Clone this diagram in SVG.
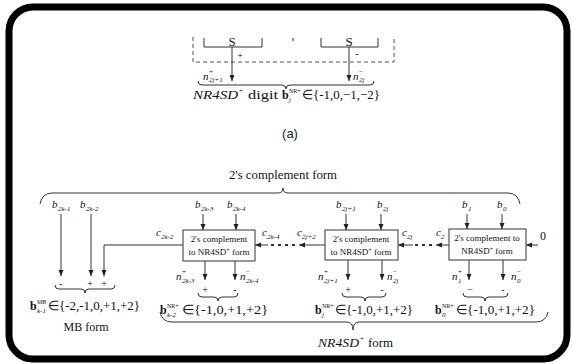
<svg xmlns="http://www.w3.org/2000/svg" width="573" height="364" viewBox="0 0 573 364">
<defs>
<style>
.t{font-family:"Liberation Serif","Times New Roman",serif;fill:#111}
.i{font-style:italic}
.s{font-size:7px}
.p{font-size:6px}
.lab{font-size:11px;font-style:italic}
.ln{stroke:#333;stroke-width:1;fill:none}
.ar{stroke:#333;stroke-width:1;fill:none;marker-end:url(#ah)}
.dot{stroke:#333;stroke-width:2;fill:none;stroke-dasharray:3 4}
.box{fill:#fff;stroke:#333;stroke-width:1}
.bt{font-family:"Liberation Serif","Times New Roman",serif;font-size:9px;fill:#111;text-anchor:middle}
.sg{font-family:"Liberation Serif",serif;font-size:10px;fill:#111;text-anchor:middle}
</style>
<marker id="ah" viewBox="0 0 6 6" refX="6" refY="3" markerWidth="6" markerHeight="6" orient="auto" markerUnits="userSpaceOnUse"><path d="M0,0.5 L6,3 L0,5.5z" fill="#222"/></marker>
<clipPath id="cl"><rect x="0" y="38" width="573" height="40"/></clipPath>
</defs>
<rect x="0" y="0" width="573" height="364" fill="#fff"/>
<rect x="9" y="7" width="558" height="352" rx="24" fill="#fff" stroke="#000" stroke-width="7"/>

<!-- part (a) -->
<g id="part-a">
<path d="M193,37 V62 H394 V37" fill="none" stroke="#555" stroke-width="1" stroke-dasharray="4 3"/>
<path class="ln" d="M204,38 V47 H262 V38"/>
<path class="ln" d="M321,38 V47 H378 V38"/>
<line class="ln" x1="293" y1="38" x2="293" y2="41"/>
<text class="t" x="232" y="46" font-size="13" text-anchor="middle" clip-path="url(#cl)">S</text>
<text class="t" x="349" y="46" font-size="13" text-anchor="middle" clip-path="url(#cl)">S</text>
<text class="sg" x="240" y="59">+</text>
<text class="sg" x="357" y="57">-</text>
<text class="t lab" x="203" y="80">n</text><text class="t s" x="209" y="74">+</text><text class="t s i" x="209" y="82">2j+1</text>
<text class="t lab" x="353" y="80">n</text><text class="t s" x="359" y="74">−</text><text class="t s i" x="359" y="82">2j</text>
<path class="ln" d="M198,81 Q198,85 202,85 H282 Q286,85 286,89 Q286,85 290,85 H370 Q374,85 374,81"/>
<text class="t i" x="193" y="99" font-size="13" textLength="45" lengthAdjust="spacingAndGlyphs">NR4SD</text>
<text class="t s" x="239" y="93">+</text>
<text class="t" x="248" y="99" font-size="13" textLength="30" lengthAdjust="spacingAndGlyphs">digit</text>
<text class="t" x="282" y="99" font-size="12" font-weight="bold">b</text>
<text class="t p" x="289" y="93">NR+</text><text class="t s i" x="289" y="102">j</text>
<text class="t" x="302" y="99" font-size="13" textLength="78" lengthAdjust="spacingAndGlyphs">∈{-1,0,−1,−2}</text>
<text x="290" y="138" font-family="Liberation Sans, Arial, sans-serif" font-size="13" fill="#222" text-anchor="middle">(a)</text>
</g>

<g id="header">
<text class="t" x="283" y="179" font-size="13" text-anchor="middle" textLength="108" lengthAdjust="spacingAndGlyphs">2's complement form</text>
<path class="ln" d="M40,204 Q42,193 52,193 H278 Q283,193 283,188 Q283,193 288,193 H508 Q518,193 520,204"/>
</g>

<g id="mb">
<text class="t lab" x="52" y="208">b</text><text class="t s i" x="58" y="211">2k-1</text>
<text class="t lab" x="80" y="208">b</text><text class="t s i" x="86" y="211">2k-2</text>
<text class="sg" x="61" y="287">-</text>
<text class="sg" x="90" y="287">+</text>
<text class="sg" x="104" y="287">+</text>
<path class="ln" d="M55,285 Q55,289 59,289 H81 Q85,289 85,293 Q85,289 89,289 H111 Q115,289 115,285"/>
<text class="t" x="30" y="310" font-size="12" font-weight="bold">b</text>
<text class="t p" x="37" y="304">MB</text><text class="t s i" x="37" y="313">k-1</text>
<text class="t" x="48" y="310" font-size="13" textLength="92" lengthAdjust="spacingAndGlyphs">∈{-2,-1,0,+1,+2}</text>
<text class="t" x="86" y="331" font-size="12" text-anchor="middle">MB form</text>
</g>

<g id="box1">
<rect class="box" x="183" y="230" width="72" height="31"/>
<text class="bt" x="219" y="242">2's complement</text>
<text class="bt" x="219" y="255">to NR4SD<tspan font-size="6" dy="-3">+</tspan><tspan dy="3"> form</tspan></text>
<text class="t lab" x="195" y="208">b</text><text class="t s i" x="201" y="211">2k-3</text>
<text class="t lab" x="227" y="208">b</text><text class="t s i" x="233" y="211">2k-4</text>
<text class="t lab" x="156" y="236">c</text><text class="t s i" x="161" y="239">2k-2</text>
<text class="t lab" x="262" y="236">c</text><text class="t s i" x="267" y="239">2k-4</text>
<text class="t lab" x="176" y="280">n</text><text class="t s" x="182" y="274">+</text><text class="t s i" x="182" y="283">2k-3</text>
<text class="t lab" x="240" y="280">n</text><text class="t s" x="246" y="274">−</text><text class="t s i" x="246" y="283">2k-4</text>
<text class="sg" x="205" y="293">+</text>
<text class="sg" x="235" y="293">-</text>
<path class="ln" d="M198,293 Q198,297 202,297 H214 Q218,297 218,301 Q218,297 222,297 H234 Q238,297 238,293"/>
<text class="t" x="160" y="314" font-size="12" font-weight="bold">b</text>
<text class="t p" x="167" y="308">NR+</text><text class="t s i" x="167" y="317">k-2</text>
<text class="t" x="182" y="314" font-size="13" textLength="86" lengthAdjust="spacingAndGlyphs">∈{-1,0,+1,+2}</text>
</g>

<g id="box2">
<rect class="box" x="325" y="230" width="73" height="30"/>
<text class="bt" x="361" y="242">2's complement</text>
<text class="bt" x="361" y="255">to NR4SD<tspan font-size="6" dy="-3">+</tspan><tspan dy="3"> form</tspan></text>
<text class="t lab" x="336" y="208">b</text><text class="t s i" x="342" y="211">2j+1</text>
<text class="t lab" x="377" y="208">b</text><text class="t s i" x="383" y="211">2j</text>
<text class="t lab" x="297" y="236">c</text><text class="t s i" x="302" y="239">2j+2</text>
<text class="t lab" x="402" y="236">c</text><text class="t s i" x="407" y="239">2j</text>
<text class="t lab" x="318" y="280">n</text><text class="t s" x="324" y="274">+</text><text class="t s i" x="324" y="283">2j+1</text>
<text class="t lab" x="387" y="280">n</text><text class="t s" x="393" y="274">−</text><text class="t s i" x="393" y="283">2j</text>
<text class="sg" x="348" y="293">+</text>
<text class="sg" x="382" y="293">-</text>
<path class="ln" d="M342,293 Q342,297 346,297 H361 Q365,297 365,301 Q365,297 369,297 H382 Q386,297 386,293"/>
<text class="t" x="315" y="314" font-size="12" font-weight="bold">b</text>
<text class="t p" x="322" y="308">NR+</text><text class="t s i" x="322" y="317">j</text>
<text class="t" x="335" y="314" font-size="13" textLength="78" lengthAdjust="spacingAndGlyphs">∈{-1,0,+1,+2}</text>
</g>

<g id="box3">
<rect class="box" x="449" y="229" width="77" height="31"/>
<text class="bt" x="487" y="241">2's complement to</text>
<text class="bt" x="487" y="254">NR4SD<tspan font-size="6" dy="-3">+</tspan><tspan dy="3"> form</tspan></text>
<text class="t lab" x="462" y="208">b</text><text class="t s i" x="468" y="211">1</text>
<text class="t lab" x="497" y="208">b</text><text class="t s i" x="503" y="211">0</text>
<text class="t lab" x="436" y="236">c</text><text class="t s i" x="441" y="239">2</text>
<text class="t" x="540" y="240" font-size="12">0</text>
<text class="t lab" x="452" y="280">n</text><text class="t s" x="458" y="274">+</text><text class="t s i" x="458" y="283">1</text>
<text class="t lab" x="511" y="280">n</text><text class="t s" x="517" y="274">−</text><text class="t s i" x="517" y="283">0</text>
<text class="sg" x="470" y="293">−</text>
<text class="sg" x="503" y="293">-</text>
<path class="ln" d="M463,293 Q463,297 467,297 H481 Q485,297 485,301 Q485,297 489,297 H504 Q508,297 508,293"/>
<text class="t" x="435" y="314" font-size="12" font-weight="bold">b</text>
<text class="t p" x="442" y="308">NR+</text><text class="t s i" x="442" y="317">0</text>
<text class="t" x="456" y="314" font-size="13" textLength="79" lengthAdjust="spacingAndGlyphs">∈{-1,0,+1,+2}</text>
</g>

<g id="footer">
<path class="ln" d="M160,312 Q162,322 172,322 H347 Q353,322 353,330 Q353,322 359,322 H536 Q546,322 548,312"/>
<text class="t i" x="318" y="347" font-size="12" textLength="41" lengthAdjust="spacingAndGlyphs">NR4SD</text>
<text class="t s" x="360" y="341">+</text>
<text class="t" x="368" y="347" font-size="12" textLength="25" lengthAdjust="spacingAndGlyphs">form</text>
</g>

<g id="connectors">
<path class="ar" d="M232,47 V81"/>
<path class="ar" d="M349,47 V81"/>
<path class="ar" d="M61,214 V276"/>
<path class="ar" d="M91,214 V276"/>
<path class="ar" d="M183,245 H104 V276"/>
<path class="ar" d="M203,214 V230"/>
<path class="ar" d="M236,214 V230"/>
<path class="ar" d="M346,214 V230"/>
<path class="ar" d="M381,214 V230"/>
<path class="ar" d="M467,214 V229"/>
<path class="ar" d="M502,214 V229"/>
<path class="ar" d="M205,261 V280"/>
<path class="ar" d="M235,261 V280"/>
<path class="ar" d="M348,260 V280"/>
<path class="ar" d="M382,260 V280"/>
<path class="ar" d="M469,260 V280"/>
<path class="ar" d="M503,260 V280"/>
<path class="ar" d="M268,245 H255"/>
<path class="ar" d="M325,245 H299"/>
<path class="ar" d="M413,245 H398"/>
<path class="ar" d="M449,245 H436"/>
<path class="ar" d="M538,245 H526"/>
<path class="dot" d="M271,245 H296"/>
<path class="dot" d="M415,245 H434"/>
</g>
</svg>
